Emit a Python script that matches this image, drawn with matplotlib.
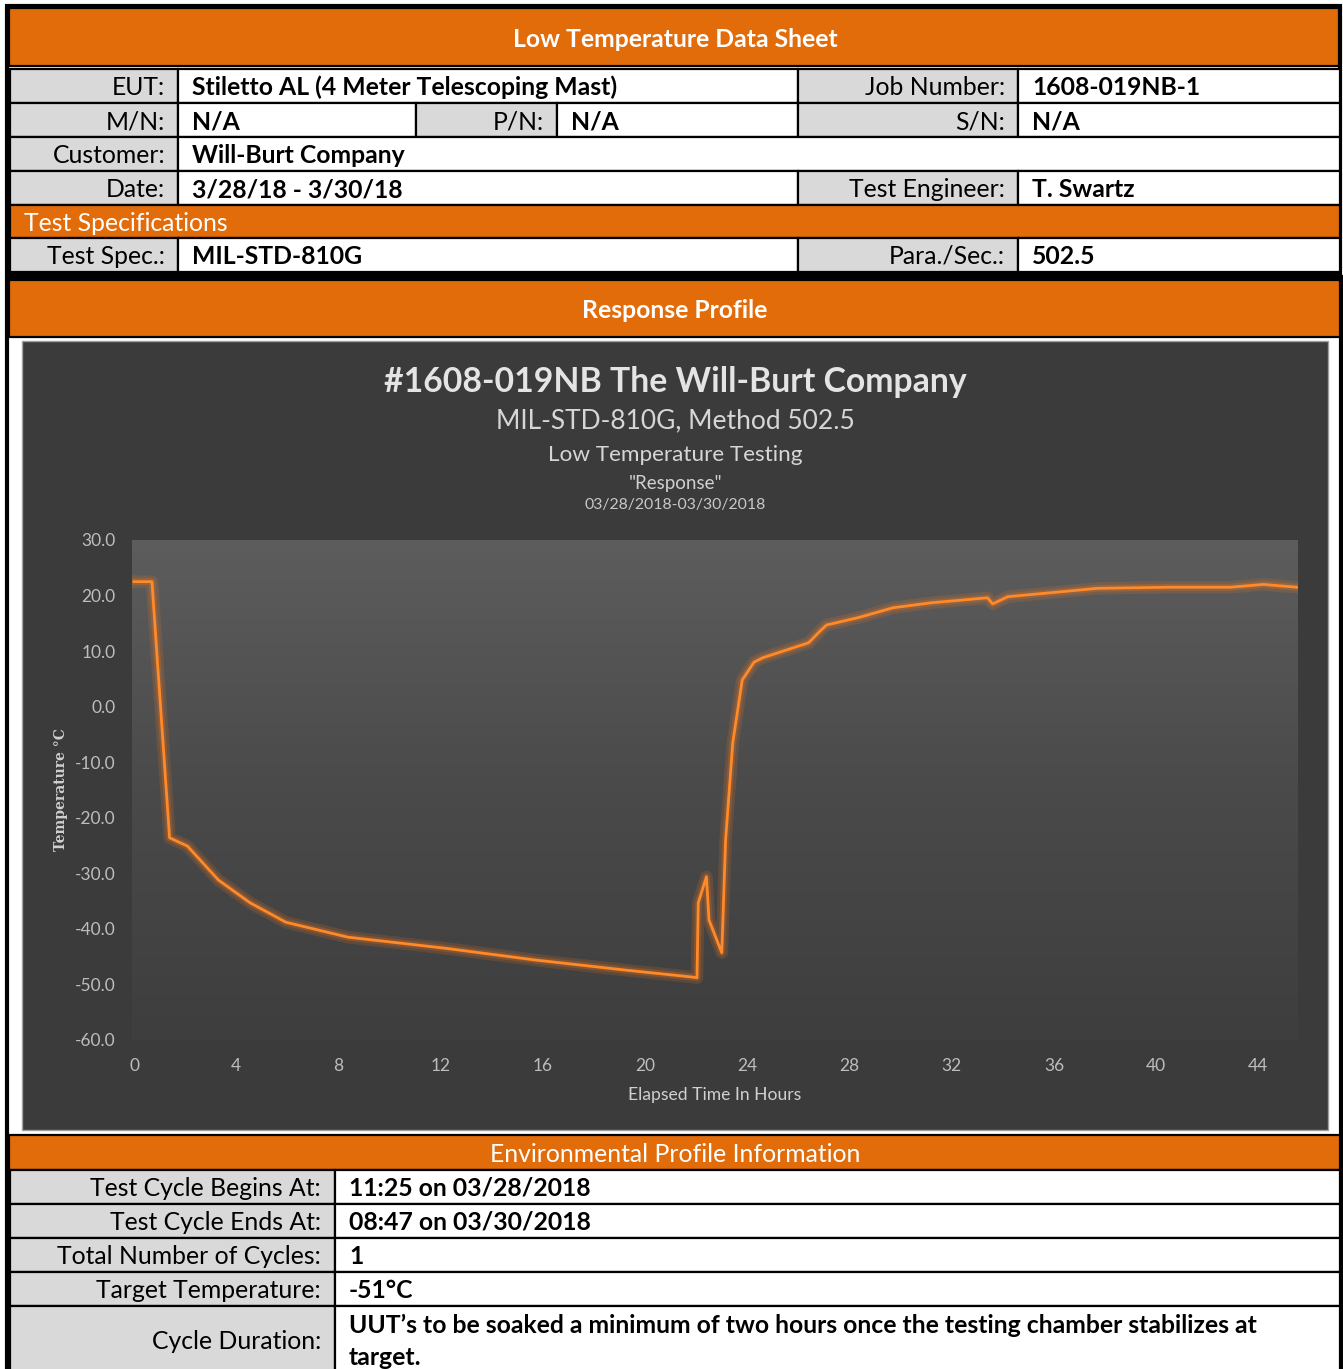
import numpy as np
import matplotlib.pyplot as plt
from matplotlib.patches import Rectangle
from matplotlib.colors import LinearSegmentedColormap

plt.rcParams['font.family'] = ['Lato', 'DejaVu Sans']

# ---------------- data ----------------
sheet_title = 'Low Temperature Data Sheet'
top_rows = [
    [('EUT:', 'Stiletto AL (4 Meter Telescoping Mast)'), ('Job Number:', '1608-019NB-1')],
    [('M/N:', 'N/A'), ('P/N:', 'N/A'), ('S/N:', 'N/A')],
    [('Customer:', 'Will-Burt Company')],
    [('Date:', '3/28/18 - 3/30/18'), ('Test Engineer:', 'T. Swartz')],
]
spec_header = 'Test Specifications'
spec_row = [('Test Spec.:', 'MIL-STD-810G'), ('Para./Sec.:', '502.5')]
profile_header = 'Response Profile'

chart_titles = ['#1608-019NB The Will-Burt Company',
                'MIL-STD-810G, Method 502.5',
                'Low Temperature Testing',
                '"Response"',
                '03/28/2018-03/30/2018']
x_label = 'Elapsed Time In Hours'
y_label = 'Temperature °C'

hours = [0, 0.7, 1.39, 2.09, 3.3, 4.54, 5.94, 8.38, 10.5, 12.2, 15.7, 19.2, 21.9,
         22.03, 22.08, 22.4, 22.5, 23.0, 23.15, 23.43, 23.8, 24.26, 24.6, 26.4,
         26.8, 27.1, 28.4, 29.7, 31.2, 33.4, 33.6, 34.2, 35.85, 37.7, 40.5, 42.9,
         44.2, 45.5]
temps = [22.5, 22.5, -23.6, -25.1, -31.2, -35.3, -38.8, -41.5, -42.6, -43.5, -45.6,
         -47.4, -48.7, -48.8, -35.3, -30.6, -38.4, -44.3, -24.0, -6.5, 4.8, 8.0, 8.8,
         11.5, 13.4, 14.7, 16.1, 17.8, 18.7, 19.6, 18.5, 19.8, 20.5, 21.3, 21.5, 21.5,
         22.0, 21.5]
x_ticks = [0, 4, 8, 12, 16, 20, 24, 28, 32, 36, 40, 44]
y_ticks = [30, 20, 10, 0, -10, -20, -30, -40, -50, -60]

env_header = 'Environmental Profile Information'
env_labels = ['Test Cycle Begins At:', 'Test Cycle Ends At:', 'Total Number of Cycles:',
              'Target Temperature:', 'Cycle Duration:']
env_values = ['11:25 on 03/28/2018', '08:47 on 03/30/2018', '1', '-51°C',
              'UUT\u2019s to be soaked a minimum of two hours once the testing chamber stabilizes at\ntarget.']

# ---------------- layout ----------------
W, H = 1343, 1369
ORANGE = '#E36C0A'
GRAY = '#D9D9D9'
FS = 17.8
DY = 1.5  # nudge text down a little inside cells

fig = plt.figure(figsize=(W / 100, H / 100), dpi=100)
bg = fig.add_axes([0, 0, 1, 1])
bg.set_xlim(0, W)
bg.set_ylim(H, 0)
bg.axis('off')


def rect(x0, y0, x1, y1, fc, ec='black', lw=1.6, z=1):
    bg.add_patch(Rectangle((x0, y0), x1 - x0, y1 - y0, fc=fc, ec=ec, lw=lw, zorder=z))


def pair_row(y0, y1, pairs, edges, lpad=13, vpad=14):
    ym = (y0 + y1) / 2 + DY
    for i, (lab, val) in enumerate(pairs):
        xa, xb, xc = edges[2 * i], edges[2 * i + 1], edges[2 * i + 2]
        rect(xa, y0, xb, y1, GRAY)
        rect(xb, y0, xc, y1, 'white')
        bg.text(xb - lpad, ym, lab, ha='right', va='center', fontsize=FS, color='black')
        bg.text(xb + vpad, ym, val, ha='left', va='center', fontsize=FS,
                fontweight='bold', color='black')


edges_by_n = {1: [10, 178, 1340],
              2: [10, 178, 798, 1018, 1340],
              3: [10, 178, 416, 557, 798, 1018, 1340]}

# top section
rect(7, 6, 1340, 273, 'white', lw=3)
rect(9, 8, 1339, 66, ORANGE)
bg.text(675, 38 + DY, sheet_title, ha='center', va='center', fontsize=FS,
        fontweight='bold', color='white')
row_y = [69, 103, 137, 171, 205]
for i, pairs in enumerate(top_rows):
    pair_row(row_y[i], row_y[i + 1], pairs, edges_by_n[len(pairs)])
rect(10, 205, 1340, 238, ORANGE)
bg.text(24, 222 + DY, spec_header, ha='left', va='center', fontsize=FS, color='white')
pair_row(238, 272, spec_row, edges_by_n[2])

# lower section
rect(7, 277, 1341, 1400, 'white', lw=3)
rect(9, 280, 1340, 337, ORANGE)
bg.text(675, 309 + DY, profile_header, ha='center', va='center', fontsize=FS,
        fontweight='bold', color='white')

# chart frame
rect(22, 341, 1328, 1130, '#3b3b3b', ec='#a0a0a0', lw=1)
title_y = [382, 421, 455, 483, 505]
title_fs = [24.3, 19, 16.2, 13.5, 11.4]
title_c = ['#e4e4e4', '#d6d6d6', '#d6d6d6', '#d0d0d0', '#c8c8c8']
for t, y, s, c in zip(chart_titles, title_y, title_fs, title_c):
    bg.text(675, y, t, ha='center', va='center', fontsize=s, color=c,
            fontweight='bold' if y == title_y[0] else 'normal')

# bottom section
rect(9, 1135, 1340, 1170, ORANGE)
bg.text(675, 1153 + DY, env_header, ha='center', va='center', fontsize=FS, color='white')
env_y = [1170, 1204, 1238, 1272, 1306, 1400]
for i, (lab, val) in enumerate(zip(env_labels, env_values)):
    y0, y1 = env_y[i], env_y[i + 1]
    rect(10, y0, 335, y1, GRAY)
    rect(335, y0, 1340, y1, 'white')
    if i < len(env_labels) - 1:
        ym = (y0 + y1) / 2 + DY
        bg.text(321, ym, lab, ha='right', va='center', fontsize=FS)
        bg.text(349, ym, val, ha='left', va='center', fontsize=FS, fontweight='bold')
    else:
        bg.text(321, 1340 + DY, lab, ha='right', va='center', fontsize=FS)
        bg.text(349, 1340 + DY, val, ha='left', va='center', fontsize=FS,
                fontweight='bold', linespacing=1.45)

# plot area
px0, py0, px1, py1 = 132, 540, 1298, 1040
box = [px0 / W, 1 - py1 / H, (px1 - px0) / W, (py1 - py0) / H]
pa = fig.add_axes(box, zorder=1)
cmap = LinearSegmentedColormap.from_list('g', ['#5d5d5d', '#4a4a4a', '#3e3e3e'])
pa.imshow(np.linspace(0, 1, 256).reshape(-1, 1), cmap=cmap, aspect='auto',
          extent=[0, 1, 0, 1])
pa.axis('off')

ax = fig.add_axes(box, zorder=2)
ax.patch.set_alpha(0)
ax.plot(hours, temps, color='#ff7a1a', lw=9, alpha=0.16, solid_joinstyle='round')
ax.plot(hours, temps, color='#ff7a1a', lw=5, alpha=0.22, solid_joinstyle='round')
ax.plot(hours, temps, color='#ff8a2a', lw=2.0, solid_joinstyle='round')
ax.set_xlim(-0.08, 45.55)
ax.set_ylim(-60, 30)
ax.set_xticks(x_ticks)
ax.set_yticks(y_ticks)
ax.set_yticklabels([f'{v:.1f}' for v in y_ticks])
ax.tick_params(length=0, colors='#bdbdbd', labelsize=12.5)
ax.tick_params(axis='y', pad=12)
ax.tick_params(axis='x', pad=13)
for s in ax.spines.values():
    s.set_visible(False)
ax.set_xlabel(x_label, color='#d0d0d0', fontsize=12.6, labelpad=9)
ax.set_ylabel(y_label, color='#d0d0d0', fontsize=10, fontweight='bold',
              family='DejaVu Serif', labelpad=5)

fig.savefig('out.png', dpi=100)
